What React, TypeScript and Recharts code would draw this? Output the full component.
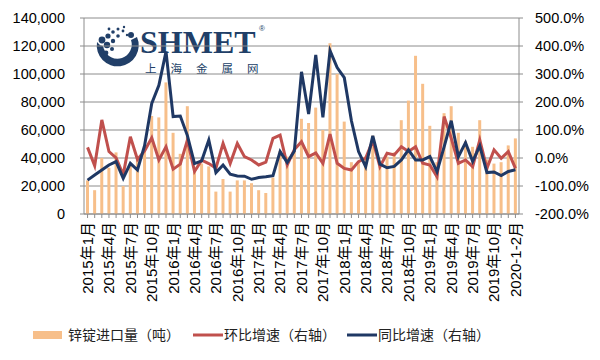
import React from 'react';
import { ComposedChart, Bar, Line, XAxis, YAxis, CartesianGrid } from 'recharts';

const years: string[] = ['2015', '2016', '2017', '2018', '2019'];
const monthNums: number[] = [1, 2, 3, 4, 5, 6, 7, 8, 9, 10, 11, 12];
const lastCategory = '2020-1-2月';
const months: string[] = [
  ...years.flatMap((y) => monthNums.map((m) => `${y}年${m}月`)),
  lastCategory,
];

// 锌锭进口量（吨）
const imports: number[] = [
  24000, 17000, 40000, 33000, 44000, 20000, 36000, 40000, 48000, 70000, 69000, 94000,
  58000, 43000, 77000, 30000, 36000, 34000, 16000, 25000, 16000, 24000, 24000, 22000,
  17000, 15000, 26000, 45000, 41000, 45000, 68000, 65000, 76000, 60000, 122000, 100000,
  66000, 37000, 37000, 41000, 56000, 34000, 41000, 44000, 67000, 81000, 113000, 93000,
  63000, 37000, 72000, 77000, 58000, 52000, 48000, 67000, 39000, 36000, 37000, 49000,
  54000,
];

// 环比增速（右轴, %）
const mom: number[] = [
  38, -28, 136, 23, 0, -60, 76, -5, 25, 72, -7, 40,
  -40, -22, 64, -48, -8, -20, -36, 52, -20, 52, 5, -7,
  -25, -15, 70, 82, -25, 30, 58, 5, 18, -19, 85, -19,
  -37, -43, -13, 0, 62, -31, 17, 11, 40, 23, 40, -19,
  -25, -67, 148, 70, -19, -7, -31, 64, -37, 29, -1, 23,
  -37,
];

// 同比增速（右轴, %）
const yoy: number[] = [
  -79, -61, -43, -25, -13, -73, -19, -43, 45, 195, 260, 380,
  148, 150, 80, -20, -10, 64, -52, -25, -58, -64, -65, -76,
  -70, -67, -63, 23, -16, 25, 308, 157, 368, 145, 383, 323,
  287, 133, 23, -31, 79, -22, -35, -30, -7, 29, -7, -7,
  5, -49, 40, 133, 5, 55, -12, 43, -52, -50, -63, -48,
  -42,
];

const leftTicks: number[] = [0, 20000, 40000, 60000, 80000, 100000, 120000, 140000];
const rightTicks: number[] = [-200, -100, 0, 100, 200, 300, 400, 500];

const legendLabels: string[] = ['锌锭进口量（吨）', '环比增速（右轴）', '同比增速（右轴）'];

const data = months.map((m, i) => ({ month: m, imports: imports[i], mom: mom[i], yoy: yoy[i] }));

const FONT = "'Liberation Sans', Arial, 'Noto Sans CJK SC', sans-serif";
const BAR_COLOR = '#F7BF8A';
const RED = '#C0504D';
const NAVY = '#1F3864';
const GRID = '#8C8C8C';

const XTick = (props: any) => {
  const { x, y, payload } = props;
  if (payload.index % 3 !== 0) return <g />;
  return (
    <text
      x={x}
      y={y}
      transform={`rotate(-90 ${x} ${y})`}
      textAnchor="end"
      dy="0.36em"
      fontSize={15}
      fill="#000"
      fontFamily={FONT}
    >
      {payload.value}
    </text>
  );
};

const Watermark = () => (
  <g fill="#213F68">
    <path d="M97,42 A21,21 0 1 0 137,37 L131,40 A14,14 0 1 1 104,49 Z" />
    <circle cx={131} cy={35} r={3} />
    <circle cx={102} cy={40} r={3.4} />
    <circle cx={101} cy={48} r={2.6} />
    <circle cx={107} cy={45} r={3.2} />
    <circle cx={108} cy={36} r={2.6} />
    <circle cx={113} cy={41} r={2.2} />
    <circle cx={106} cy={53} r={2.4} />
    <circle cx={112} cy={49} r={2} />
    <circle cx={113} cy={32} r={1.8} />
    <circle cx={118} cy={29} r={1.5} />
    <circle cx={118} cy={36} r={1.8} />
    <circle cx={123} cy={31} r={1.4} />
    <circle cx={124} cy={27} r={1.2} />
    <circle cx={109} cy={29} r={1.4} />
    <circle cx={127} cy={35} r={1.2} />
    <text x={140} y={53} fontFamily="'Liberation Serif', 'DejaVu Serif', serif" fontWeight="bold" fontSize={32}>
      SHMET
    </text>
    <text x={259} y={31} fontFamily={FONT} fontSize={8}>
      ®
    </text>
    <text x={145} y={73} fontFamily="'Noto Sans CJK SC', sans-serif" fontSize={11.5} letterSpacing={14}>
      上海金属网
    </text>
  </g>
);

const Legend = () => (
  <g fontFamily={FONT} fontSize={14} fill="#222">
    <rect x={33} y={331} width={29} height={8} fill={BAR_COLOR} />
    <text x={68} y={340}>{legendLabels[0]}</text>
    <line x1={193} y1={335} x2={223} y2={335} stroke={RED} strokeWidth={3} />
    <text x={224} y={340}>{legendLabels[1]}</text>
    <line x1={347} y1={335} x2={377} y2={335} stroke={NAVY} strokeWidth={3} />
    <text x={378} y={340}>{legendLabels[2]}</text>
  </g>
);

export default function App() {
  return (
    <div style={{ position: 'absolute', left: 0, top: 0, width: 600, height: 360, background: '#fff' }}>
      <svg width={600} height={360} style={{ position: 'absolute', left: 0, top: 0 }}>
        <Watermark />
        <Legend />
      </svg>
      <div style={{ position: 'absolute', left: 0, top: 0 }}>
        <ComposedChart width={600} height={360} data={data} margin={{ top: 18, right: 0, bottom: 0, left: 0 }}>
          <CartesianGrid vertical={false} stroke={GRID} strokeWidth={1} yAxisId="left" />
          <XAxis
            dataKey="month"
            interval={0}
            height={146}
            tick={<XTick />}
            tickSize={4}
            tickMargin={4}
            axisLine={{ stroke: GRID }}
            tickLine={{ stroke: GRID }}
          />
          <YAxis
            yAxisId="left"
            width={84}
            domain={[0, 140000]}
            ticks={leftTicks}
            tickFormatter={(v: number) => v.toLocaleString('en-US')}
            tick={{ fontSize: 14.5, fill: '#000', fontFamily: FONT }}
            tickSize={4}
            tickMargin={15}
            axisLine={{ stroke: GRID }}
            tickLine={{ stroke: GRID }}
          />
          <YAxis
            yAxisId="right"
            orientation="right"
            width={81}
            domain={[-200, 500]}
            ticks={rightTicks}
            tickFormatter={(v: number) => `${v.toFixed(1)}%`}
            tick={{ fontSize: 14.5, fill: '#000', fontFamily: FONT }}
            tickSize={4}
            tickMargin={12}
            axisLine={{ stroke: GRID }}
            tickLine={{ stroke: GRID }}
          />
          <Bar yAxisId="left" dataKey="imports" fill={BAR_COLOR} barSize={3} isAnimationActive={false} />
          <Line
            yAxisId="right"
            type="linear"
            dataKey="mom"
            stroke={RED}
            strokeWidth={3}
            dot={false}
            isAnimationActive={false}
          />
          <Line
            yAxisId="right"
            type="linear"
            dataKey="yoy"
            stroke={NAVY}
            strokeWidth={3}
            dot={false}
            isAnimationActive={false}
          />
        </ComposedChart>
      </div>
    </div>
  );
}
